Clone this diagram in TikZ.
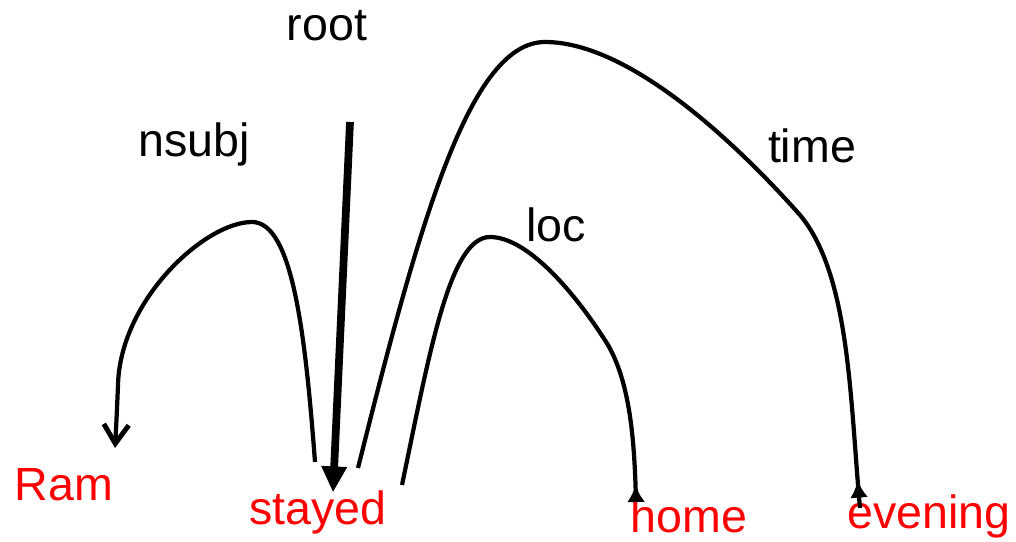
\documentclass[tikz,border=0pt]{standalone}
\usepackage{fontspec}
\setmainfont{Liberation Sans}
\usetikzlibrary{arrows.meta,decorations.markings,positioning}

\begin{document}
\begin{tikzpicture}[
        x=0.02cm, y=-0.02cm,
        word/.style={anchor=base, inner sep=0pt, text=red, font=\fontsize{26.5}{30}\selectfont},
        rel/.style={anchor=base, inner sep=0pt, font=\fontsize{26.5}{30}\selectfont},
        arc/.style={line width=2.4pt},
        backtip/.style={-{Latex[reversed,length=0.34cm,width=0.36cm]}},
        rootarrow/.style={line width=4.4pt, -{Triangle[length=0.52cm,width=0.48cm]}}
    ]
        \useasboundingbox (0,0) rectangle (1016,541);
        % words
        \node[word] (ram) at (64,500) {Ram};
        \node[word] (stayed) at (318,524) {stayed};
        \node[word] (home) at (689,532) {home};
        \node[word] (evening) at (929,528) {evening};
        % relation labels
        \node[rel] (root) at (327,40) {root};
        \node[rel] (nsubj) at (194,156) {nsubj};
        \node[rel] (loc) at (556,241) {loc};
        \node[rel] (time) at (812,162) {time};
        % arc ends
        \coordinate (rootS) at (350,122);
        \coordinate (nsubjS) at (315,462);
        \coordinate (nsubjE) at (115,448);
        \coordinate (timeS) at (358,468);
        \coordinate (timeE) at (860,508);
        \coordinate (locS) at (402,485);
        \coordinate (locE) at (636,502);
        % arcs
        \draw[rootarrow] (rootS) -- ([xshift=0.3cm,yshift=-0.05cm]stayed.north);
        \draw[arc, -{Straight Barb[length=0.38cm,width=0.5cm,line width=2.8pt]}] (nsubjS)
            .. controls (305,330) and (292,222) .. (252,222)
            .. controls (205,222) and (120,300) .. (118,385)
            .. controls (117,410) and (116,430) .. (nsubjE);
        \draw[arc, backtip] (locS)
            .. controls (430,350) and (450,237) .. (490,237)
            .. controls (530,237) and (580,300) .. (608,345)
            .. controls (628,380) and (634,430) .. (locE);
        \draw[arc, postaction={decorate}, decoration={markings,
            mark=at position 0.975 with {\arrowreversed{Latex[length=0.34cm,width=0.36cm]}}}] (timeS)
            .. controls (420,220) and (470,42) .. (545,42)
            .. controls (640,42) and (760,170) .. (800,215)
            .. controls (850,275) and (850,400) .. (timeE);
\end{tikzpicture}
\end{document}
